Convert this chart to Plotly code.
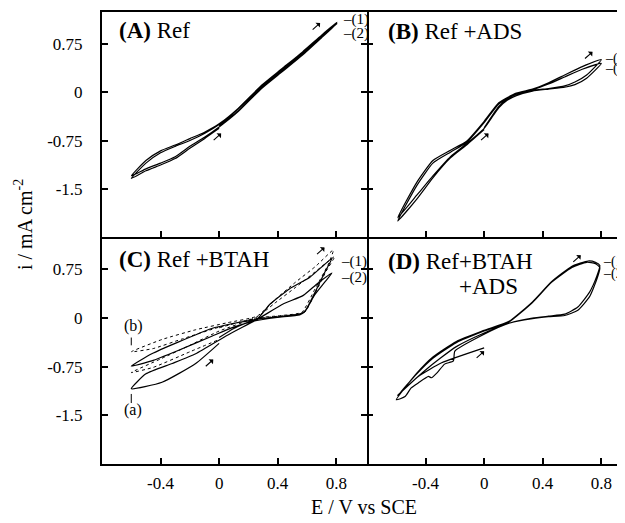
import plotly.graph_objects as go

# ---------------- data (E in V vs SCE, i in mA cm-2) ----------------
# Panel A: Ref
A_E = [0.0, 0.13, 0.29, 0.43, 0.57, 0.70, 0.805,
       0.70, 0.57, 0.43, 0.29, 0.13, 0.0, -0.10, -0.20, -0.30, -0.40, -0.50, -0.60,
       -0.50, -0.40, -0.30, -0.20, -0.10, 0.0, 0.13, 0.29, 0.43, 0.57, 0.70, 0.805,
       0.70, 0.57, 0.43, 0.29, 0.13, 0.0, -0.10, -0.20, -0.30, -0.40, -0.50, -0.60,
       -0.50, -0.40, -0.30, -0.20, -0.10, 0.0]
A_i = [-0.52, -0.29, 0.07, 0.33, 0.59, 0.86, 1.09,
       0.89, 0.63, 0.37, 0.11, -0.25, -0.49, -0.62, -0.72, -0.82, -0.91, -1.06, -1.30,
       -1.19, -1.10, -1.00, -0.84, -0.70, -0.54, -0.30, 0.06, 0.32, 0.58, 0.85, 1.07,
       0.87, 0.61, 0.35, 0.09, -0.26, -0.50, -0.64, -0.75, -0.84, -0.94, -1.10, -1.34,
       -1.22, -1.13, -1.03, -0.87, -0.72, -0.56]

# Panel B: Ref + ADS
B_E = [0.0, 0.05, 0.10, 0.16, 0.22, 0.33, 0.44, 0.55, 0.62, 0.70, 0.80,
       0.67, 0.55, 0.44, 0.33, 0.22, 0.10, 0.0, -0.12, -0.23, -0.35, -0.46, -0.59,
       -0.46, -0.35, -0.23, -0.12, 0.0, 0.05, 0.10, 0.16, 0.22, 0.33, 0.44, 0.55, 0.62, 0.70, 0.80,
       0.67, 0.55, 0.44, 0.33, 0.22, 0.10, 0.0, -0.12, -0.23, -0.35, -0.46, -0.59,
       -0.46, -0.35, -0.23, -0.12, 0.0]
B_i = [-0.55, -0.38, -0.22, -0.10, -0.03, 0.03, 0.06, 0.10, 0.16, 0.27, 0.51,
       0.40, 0.27, 0.15, 0.05, -0.01, -0.16, -0.45, -0.76, -0.90, -1.06, -1.40, -1.95,
       -1.60, -1.30, -1.00, -0.80, -0.56, -0.40, -0.24, -0.12, -0.05, 0.02, 0.05, 0.08, 0.12, 0.22, 0.45,
       0.36, 0.24, 0.13, 0.04, -0.02, -0.18, -0.47, -0.78, -0.93, -1.10, -1.45, -2.00,
       -1.66, -1.33, -1.02, -0.82, -0.58]

# Panel C: Ref + BTAH, curve (a) solid
Ca_E = [0.0, 0.10, 0.25, 0.40, 0.55, 0.59, 0.66, 0.72, 0.77,
        0.62, 0.48, 0.35, 0.26, 0.10, -0.05, -0.28, -0.46, -0.60,
        -0.46, -0.28, -0.05, 0.10, 0.25, 0.40, 0.55, 0.59, 0.65, 0.72, 0.77,
        0.67, 0.575, 0.44, 0.26, 0.06, -0.16, -0.32, -0.50, -0.60,
        -0.39, -0.16, 0.0]
Ca_i = [-0.30, -0.16, -0.02, 0.02, 0.06, 0.12, 0.42, 0.70, 0.92,
        0.63, 0.45, 0.22, -0.01, -0.08, -0.16, -0.37, -0.55, -0.74,
        -0.66, -0.50, -0.28, -0.14, -0.04, 0.01, 0.05, 0.11, 0.35, 0.55, 0.695,
        0.53, 0.35, 0.22, -0.02, -0.26, -0.55, -0.70, -0.86, -1.09,
        -0.99, -0.70, -0.39]

# Panel C: curve (b) dotted
Cb_E = [0.0, 0.25, 0.43, 0.565, 0.655, 0.75, 0.78,
        0.66, 0.52, 0.38, 0.26, 0.06, -0.16, -0.39, -0.60,
        -0.45, -0.25, 0.0, 0.25, 0.45, 0.58, 0.66, 0.73, 0.79,
        0.66, 0.52, 0.38, 0.26, 0.0, -0.20, -0.40, -0.60,
        -0.45, -0.20, 0.0]
Cb_i = [-0.15, 0.0, 0.04, 0.09, 0.45, 0.85, 1.05,
        0.80, 0.55, 0.28, 0.03, -0.07, -0.18, -0.33, -0.52,
        -0.47, -0.32, -0.14, -0.01, 0.04, 0.08, 0.40, 0.72, 0.95,
        0.72, 0.47, 0.23, 0.02, -0.20, -0.42, -0.63, -0.84,
        -0.76, -0.52, -0.33]

# Panel D: Ref + BTAH + ADS
D_E = [0.0, -0.29, -0.45, -0.59,
       -0.50, -0.40, -0.30, -0.19, 0.0, 0.17, 0.33, 0.44, 0.55, 0.64, 0.72, 0.77, 0.79,
       0.76, 0.71, 0.60, 0.46, 0.33, 0.17, 0.0, -0.19, -0.35, -0.46, -0.60,
       -0.54, -0.50, -0.45, -0.38, -0.36, -0.32, -0.27, -0.21, -0.20, 0.0, 0.17, 0.33, 0.44, 0.55,
       0.64, 0.72, 0.77, 0.79,
       0.76, 0.70, 0.60, 0.46, 0.33, 0.17, 0.0, -0.19, -0.35, -0.46, -0.58,
       -0.45, -0.29, 0.0]
D_i = [-0.46, -0.69, -0.90, -1.19,
       -1.00, -0.80, -0.62, -0.44, -0.23, -0.08, 0.0, 0.03, 0.06, 0.17, 0.40, 0.65, 0.81,
       0.86, 0.88, 0.80, 0.56, 0.25, -0.05, -0.19, -0.36, -0.60, -0.85, -1.26,
       -1.21, -1.08, -1.00, -0.90, -0.92, -0.84, -0.71, -0.66, -0.51, -0.25, -0.08, -0.01, 0.02, 0.04,
       0.12, 0.33, 0.60, 0.78,
       0.84, 0.86, 0.78, 0.55, 0.24, -0.06, -0.20, -0.38, -0.62, -0.86, -1.17,
       -0.90, -0.69, -0.46]

X_TICKS = [-0.4, 0, 0.4, 0.8]
X_TICKTEXT = ["-0.4", "0", "0.4", "0.8"]
Y_TICKS = [0.75, 0, -0.75, -1.5]
Y_TICKTEXT = ["0.75", "0", "-0.75", "-1.5"]

FONT = "Liberation Serif, Times New Roman, Times, DejaVu Serif, serif"
LW = 1.2

fig = go.Figure()
line = dict(color="black", width=LW, shape="spline", smoothing=0.5)
fig.add_trace(go.Scatter(x=A_E, y=A_i, mode="lines", line=line, xaxis="x", yaxis="y"))
fig.add_trace(go.Scatter(x=B_E, y=B_i, mode="lines", line=line, xaxis="x2", yaxis="y2"))
fig.add_trace(go.Scatter(x=Ca_E, y=Ca_i, mode="lines", line=line, xaxis="x3", yaxis="y3"))
fig.add_trace(go.Scatter(x=Cb_E, y=Cb_i, mode="lines",
                         line=dict(color="black", width=1, dash="dot", shape="spline", smoothing=0.5),
                         xaxis="x3", yaxis="y3"))
fig.add_trace(go.Scatter(x=D_E, y=D_i, mode="lines", line=line, xaxis="x4", yaxis="y4"))

XL = [0, 0.5067]
XR = [0.5067, 1]
YT = [0.5022, 1]
YB = [0, 0.5022]
xr_left = [-0.8, 1.01]
xr_right = [-0.8, 0.962]
yr = [-2.25, 1.25]
TF = dict(family=FONT, size=17, color="black")

def xax(domain, rng, anchor, labels, mirror):
    return dict(domain=domain, range=rng, anchor=anchor, showgrid=False, zeroline=False,
                showline=True, linecolor="black", linewidth=2, mirror=mirror,
                ticks="inside", ticklen=6, tickwidth=2, tickcolor="black",
                tickvals=X_TICKS, ticktext=X_TICKTEXT, showticklabels=labels,
                tickfont=TF, ticklabelstandoff=3)

def yax(domain, anchor, labels, mirror, showline):
    return dict(domain=domain, range=yr, anchor=anchor, showgrid=False, zeroline=False,
                showline=showline, linecolor="black", linewidth=2, mirror=mirror,
                ticks="inside", ticklen=6, tickwidth=2, tickcolor="black",
                tickvals=Y_TICKS, ticktext=Y_TICKTEXT, showticklabels=labels,
                tickfont=TF, ticklabelstandoff=14)

# The page body has an 8px margin, so the figure is sized/offset to compensate.
fig.update_layout(
    width=617, height=515,
    margin=dict(l=94, r=0, t=4, b=59),
    paper_bgcolor="white", plot_bgcolor="white",
    showlegend=False,
    font=dict(family=FONT, color="black"),
    xaxis=xax(XL, xr_left, "y", False, True),
    xaxis2=xax(XR, xr_right, "y2", False, True),
    xaxis3=xax(XL, xr_left, "y3", True, False),
    xaxis4=xax(XR, xr_right, "y4", True, False),
    yaxis=yax(YT, "x", True, "ticks", True),
    yaxis2=yax(YT, "x2", False, False, False),
    yaxis3=yax(YB, "x3", True, "ticks", True),
    yaxis4=yax(YB, "x4", False, False, False),
)

ann = []
# axis titles
ann.append(dict(text="E / V vs SCE", xref="paper", yref="paper", x=0.5, y=-0.095,
                xanchor="center", yanchor="middle", showarrow=False,
                font=dict(family=FONT, size=20)))
ann.append(dict(text="i / mA cm<sup>-2</sup>", xref="paper", yref="paper", x=-0.15, y=0.53,
                xanchor="center", yanchor="middle", showarrow=False, textangle=-90,
                font=dict(family=FONT, size=20)))

# panel labels
def plab(txt, xr, yr_, x, y):
    ann.append(dict(text=txt, xref=xr, yref=yr_, x=x, y=y, xanchor="left", yanchor="middle",
                    showarrow=False, font=dict(family=FONT, size=23)))

plab("<b>(A)</b> Ref", "x domain", "y domain", 0.055, 0.92)
plab("<b>(B)</b> Ref +ADS", "x2 domain", "y2 domain", 0.075, 0.915)
plab("<b>(C)</b> Ref +BTAH", "x3 domain", "y3 domain", 0.055, 0.9)
plab("<b>(D)</b> Ref+BTAH", "x4 domain", "y4 domain", 0.075, 0.89)
plab("+ADS", "x4 domain", "y4 domain", 0.35, 0.78)

# cycle labels
def small(txt, xr, yr_, x, y, size=15):
    ann.append(dict(text=txt, xref=xr, yref=yr_, x=x, y=y, xanchor="left", yanchor="middle",
                    showarrow=False, font=dict(family=FONT, size=size)))

small("–(1)", "x", "y", 0.83, 1.13)
small("–(2)", "x", "y", 0.83, 0.92)
small("–(1)", "x2", "y2", 0.81, 0.52, size=14)
small("–(2)", "x2", "y2", 0.81, 0.37, size=14)
small("–(1)", "x3", "y3", 0.82, 0.88)
small("–(2)", "x3", "y3", 0.82, 0.62)
small("–(1)", "x4", "y4", 0.80, 0.86, size=14)
small("–(2)", "x4", "y4", 0.80, 0.68, size=14)
small("(b)", "x3", "y3", -0.665, -0.12, size=16)
small("(a)", "x3", "y3", -0.665, -1.42, size=16)

# scan direction arrows
def arrow(xr, yr_, x, y):
    ann.append(dict(xref=xr, yref=yr_, x=x, y=y, ax=-9, ay=8, text="", showarrow=True,
                    arrowhead=1, arrowsize=1.0, arrowwidth=1.1, arrowcolor="black"))

arrow("x", "y", 0.014, -0.64)
arrow("x", "y", 0.69, 1.08)
arrow("x2", "y2", 0.03, -0.64)
arrow("x2", "y2", 0.74, 0.63)
arrow("x3", "y3", -0.04, -0.64)
arrow("x3", "y3", 0.72, 1.09)
arrow("x4", "y4", 0.0, -0.51)
arrow("x4", "y4", 0.66, 0.97)

fig.update_layout(annotations=ann)

# short marker lines under/over (a) and (b)
fig.add_shape(type="line", xref="x3", yref="y3", x0=-0.6, x1=-0.6, y0=-0.30, y1=-0.42,
              line=dict(color="black", width=1))
fig.add_shape(type="line", xref="x3", yref="y3", x0=-0.6, x1=-0.6, y0=-1.17, y1=-1.31,
              line=dict(color="black", width=1))

fig.write_html("out.html")
